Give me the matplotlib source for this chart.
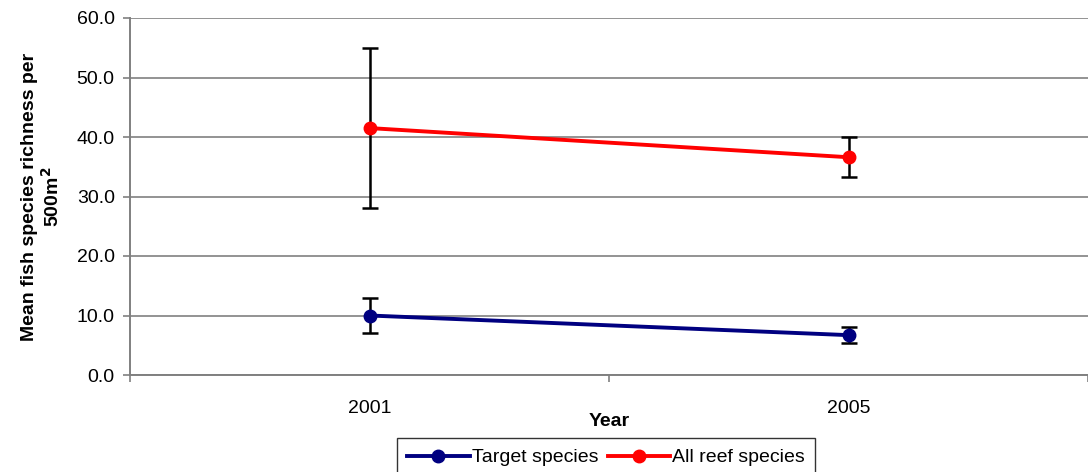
import matplotlib
matplotlib.use("Agg")
import matplotlib.pyplot as plt
import numpy as np

years = ["2001", "2005"]
target_mean = [10.0, 6.7]
target_err = [3.0, 1.3]
reef_mean = [41.5, 36.6]
reef_err = [13.5, 3.4]
y_ticks = [0, 10, 20, 30, 40, 50, 60]

plt.rcParams['font.family'] = ['Liberation Sans', 'DejaVu Sans']
FS = 14

fig = plt.figure(figsize=(10.88, 4.72), dpi=100)
ax = fig.add_axes([130/1088, 1-375/472, 1-130/1088, (375-18)/472])

x = np.arange(len(years))
series = [(target_mean, target_err, '#000080', 'Target species'),
          (reef_mean, reef_err, '#FF0000', 'All reef species')]
handles = []
for m, e, c, lab in series:
    ax.errorbar(x, m, yerr=e, fmt='none', ecolor='black', elinewidth=1.8,
                capsize=6, capthick=1.8, zorder=3)
    h, = ax.plot(x, m, color=c, lw=2.8, marker='o', ms=9, label=lab, zorder=4)
    handles.append(h)

ax.set_ylim(0, 60)
ax.set_yticks(y_ticks)
ax.set_yticklabels([f"{v:.1f}" for v in y_ticks], fontsize=FS)
ax.yaxis.grid(True, color='#808080', lw=1.2)
ax.set_axisbelow(True)
ax.set_xlim(-0.5, 1.5 - 6/482)
ax.set_xticks(x)
ax.set_xticklabels(years, fontsize=FS)
ax.tick_params(axis='x', which='major', length=0, pad=18)
ax.set_xticks([-0.5, 0.5, 1.5], minor=True)
ax.tick_params(axis='x', which='minor', length=5, color='#808080', width=1.2)
ax.tick_params(axis='y', length=5, color='#808080', width=1.2, pad=6)

for s in ['top', 'right']:
    ax.spines[s].set_visible(False)
for s in ['left', 'bottom']:
    ax.spines[s].set_color('#808080')
    ax.spines[s].set_linewidth(1.4)

ax.set_xlabel('Year', fontsize=FS, fontweight='bold', labelpad=-3)
ax.set_ylabel('Mean fish species richness per\n500m$^{\\mathbf{2}}$', fontsize=FS,
              fontweight='bold', labelpad=10, linespacing=1.15)

leg = fig.legend(handles=handles, loc='upper center', bbox_to_anchor=(606/1088, 1-438/472), ncol=2,
                 fontsize=FS, frameon=True, fancybox=False, edgecolor='black', handlelength=3.2,
                 handletextpad=0.1, columnspacing=0.5, borderpad=0.55, borderaxespad=0)
leg.get_frame().set_linewidth(1.0)

fig.savefig('out.png', dpi=100)
